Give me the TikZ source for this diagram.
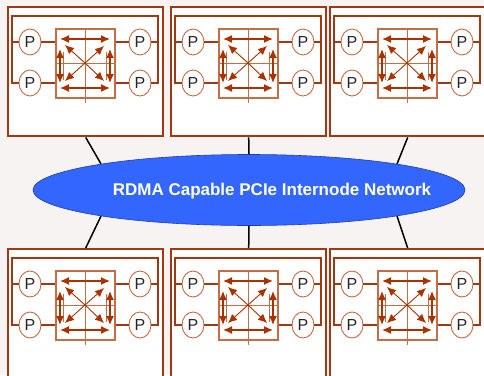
\documentclass[tikz,border=0pt]{standalone}
\usepackage{fontspec}
\setmainfont{Liberation Sans}
\usetikzlibrary{shapes.geometric,arrows.meta}
\definecolor{bgc}{RGB}{248,243,243}
\definecolor{boxc}{RGB}{160,56,20}
\definecolor{thinc}{RGB}{196,110,70}
\definecolor{arrc}{RGB}{168,50,0}
\definecolor{netc}{RGB}{51,102,255}
\definecolor{netd}{RGB}{30,60,180}
\tikzset{
  boxst/.style={draw=boxc, line width=2.4pt, fill=white, rectangle, inner sep=0pt, anchor=north west},
  framest/.style={draw=boxc, line width=1.8pt},
  pst/.style={ellipse, draw=thinc, line width=0.9pt, fill=white, minimum width=22pt, minimum height=26pt, inner sep=0pt, font=\fontsize{16}{16}\selectfont, text=black!85},
  swst/.style={rectangle, draw=thinc, line width=1.1pt, minimum width=59pt, minimum height=69pt, inner sep=0pt},
  thinl/.style={draw=thinc, line width=1pt},
  arr/.style={draw=arrc, line width=1.4pt, {Latex[length=9pt,width=8pt]}-{Latex[length=9pt,width=8pt]}},
  arro/.style={draw=arrc, line width=0.9pt, -{Latex[length=9pt,width=8pt]}},
  netst/.style={ellipse, draw=netd, line width=0.6pt, fill=netc, minimum width=432pt, minimum height=71pt, inner sep=0pt},
  nettext/.style={text=white, font=\bfseries\fontsize{17}{17}\selectfont, inner sep=0pt},
  conn/.style={draw=black, line width=1.5pt}
}
\begin{document}
\begin{tikzpicture}[x=1pt,y=-1pt]
\clip (0,0) rectangle (484,375);
\fill[bgc] (0,0) rectangle (484,375);
\foreach \i/\ox/\oy/\h in {a/7/6/129, b/170/6/129, c/329/6/129, d/7/248/140, e/170/248/140, f/329/248/140} {
  \begin{scope}[shift={(\ox,\oy)}]
    \node[boxst, minimum width=155pt, minimum height=\h pt] (B\i) at (0,0) {};
    \node[pst] (P1\i) at (23,36) {P};
    \node[pst] (P2\i) at (23,77) {P};
    \node[pst] (P3\i) at (133,36) {P};
    \node[pst] (P4\i) at (133,77) {P};
    \node[swst] (S\i) at (78.5,57.5) {};
    \coordinate (C\i) at (78,57);
    % inner frame
    \draw[framest] (P2\i.west) -- (5,77) -- (5,10) -- (151,10) -- (151,77) -- (P4\i.east);
    \draw[framest] (P1\i.west) -- (5,36);
    \draw[framest] (P3\i.east) -- (151,36);
    % P to switch
    \draw[framest] (P1\i.east) -- (P1\i.east -| S\i.west);
    \draw[framest] (P2\i.east) -- (P2\i.east -| S\i.west);
    \draw[framest] (P3\i.west) -- (P3\i.west -| S\i.east);
    \draw[framest] (P4\i.west) -- (P4\i.west -| S\i.east);
    % cross lines
    \draw[thinl] (78,23) -- (78,97);
    \draw[thinl] (48,57) -- (108,57);
    \draw[thinl] (56.5,46) -- (56.5,74);
    \draw[thinl] (99.5,46) -- (99.5,74);
    % arrows
    \draw[arr] (53,33) -- (103,33);
    \draw[arr] (53,82) -- (103,82);
    \draw[arr] (53,43) -- (53,77);
    \draw[arr] (103,43) -- (103,77);
    \draw[arro] (C\i) -- (58,39);
    \draw[arro] (C\i) -- (97,40);
    \draw[arro] (C\i) -- (58,75);
    \draw[arro] (C\i) -- (97,75);
  \end{scope}
}
\node[netst] (net) at (249,190) {};
\node[nettext] (nettxt) at (272,191) {RDMA Capable PCIe Internode Network};
\draw[conn] (Ba.south) -- (net.170);
\draw[conn] (Bb.south) -- (net.north);
\draw[conn] (Bc.south) -- (net.10);
\draw[conn] (Bd.north) -- (net.190);
\draw[conn] (Be.north) -- (net.south);
\draw[conn] (Bf.north) -- (net.350);
\end{tikzpicture}
\end{document}
